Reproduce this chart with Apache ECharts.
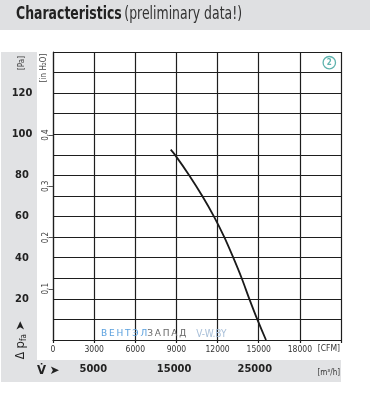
<!DOCTYPE html>
<html>
<head>
<meta charset="utf-8">
<script src="https://cdn.jsdelivr.net/npm/echarts@6/dist/echarts.min.js"></script>
<style>
html,body{margin:0;padding:0;background:#fff;}
#chart{width:370px;height:395px;}
</style>
</head>
<body>
<div id="chart"></div>
<script>
// Fan characteristic curve: volume flow [CFM] vs. static pressure [Pa]
const flowCFM = [8582, 8896, 9939, 10886, 11740, 12491, 13147, 13760, 14314, 14897, 15531];
const pressurePa = [92.5, 90, 80, 70, 60, 50, 40, 30, 20, 10, 0];

const cfmTicks = [0, 3000, 6000, 9000, 12000, 15000, 18000];
const paLabels = [20, 40, 60, 80, 100, 120];
const inH2OLabels = [0.1, 0.2, 0.3, 0.4];
const m3hLabels = [5000, 15000, 25000];

const CFM_MAX = 21000;
const PA_MAX = 140;
const PA_PER_INH2O = 249.089;
const M3H_PER_CFM = 1.69901;

const NARROW = "'Liberation Sans Narrow','Arial Narrow','DejaVu Sans Condensed',sans-serif";
const GRID_COLOR = '#1e1e1e';
const PANEL = '#e1e2e4';

const chart = echarts.init(document.getElementById('chart'), null, {renderer: 'canvas'});

const option = {
  backgroundColor: '#ffffff',
  animation: false,
  grid: {left: 53, top: 52, width: 288, height: 288, containLabel: false},
  graphic: [
    {type: 'rect', z: -10, shape: {x: 0, y: 0, width: 370, height: 30}, style: {fill: '#dfe0e2'}},
    {type: 'rect', z: -10, shape: {x: 1, y: 52, width: 36, height: 330}, style: {fill: PANEL}},
    {type: 'rect', z: -10, shape: {x: 1, y: 360, width: 340, height: 22}, style: {fill: PANEL}},
    {type: 'text', x: 16, y: 14, scaleX: 0.77, style: {
      text: '{b|Characteristics} {n|(preliminary data!)}', verticalAlign: 'middle',
      rich: {
        b: {fontFamily: NARROW, fontSize: 18, fontWeight: 'bold', fill: '#222'},
        n: {fontFamily: NARROW, fontSize: 18, fill: '#333'}
      }
    }},
    {type: 'text', x: 22, y: 63, rotation: Math.PI / 2, style: {
      text: '[Pa]', fontFamily: NARROW, fontSize: 8, fill: '#444', align: 'center', verticalAlign: 'middle'
    }},
    {type: 'text', x: 44, y: 68, rotation: Math.PI / 2, style: {
      text: '[in H₂O]', fontFamily: NARROW, fontSize: 8, fill: '#444', align: 'center', verticalAlign: 'middle'
    }},
    {type: 'text', x: 21, y: 340, rotation: Math.PI / 2, style: {
      text: '{d|Δ} {p|p}{s|fa} {a|➤}', align: 'center', verticalAlign: 'middle',
      rich: {
        d: {fontFamily: NARROW, fontSize: 12, fill: '#222'},
        p: {fontFamily: NARROW, fontSize: 13, fill: '#222'},
        s: {fontFamily: NARROW, fontSize: 8, fill: '#222', padding: [6, 0, 0, 0]},
        a: {fontFamily: 'DejaVu Sans', fontSize: 12, fill: '#222'}
      }
    }},
    {type: 'text', x: 37, y: 371, style: {
      text: '{v|V̇} {a|➤}', verticalAlign: 'middle',
      rich: {
        v: {fontFamily: NARROW, fontSize: 13, fontWeight: 'bold', fill: '#222'},
        a: {fontFamily: 'DejaVu Sans', fontSize: 12, fill: '#222'}
      }
    }},
    {type: 'text', x: 340, y: 373, style: {
      text: '[m³/h]', fontFamily: NARROW, fontSize: 8, fill: '#333', align: 'right', verticalAlign: 'middle'
    }},
    {type: 'text', x: 340, y: 349, style: {
      text: '[CFM]', fontFamily: NARROW, fontSize: 8.5, fill: '#333', align: 'right', verticalAlign: 'middle'
    }},
    {type: 'circle', shape: {cx: 329.3, cy: 62.7, r: 6.2}, style: {fill: 'none', stroke: '#5fb3ae', lineWidth: 1.3}},
    {type: 'text', x: 329.3, y: 63, style: {
      text: '2', fontFamily: NARROW, fontSize: 8, fontWeight: 'bold', fill: '#5fb3ae', align: 'center', verticalAlign: 'middle'
    }},
    {type: 'text', x: 101, y: 334, z: 5, style: {
      text: '{b|В\u2009Е\u2009Н\u2009Т\u2009Э\u2009Л}{g|З\u2009А\u2009П\u2009А\u2009Д}   {w|V-W.BY}', verticalAlign: 'middle',
      rich: {
        b: {fontFamily: "'DejaVu Sans',sans-serif", fontSize: 9, fill: '#5aa0de'},
        g: {fontFamily: "'DejaVu Sans',sans-serif", fontSize: 9, fill: '#666'},
        w: {fontFamily: NARROW, fontSize: 10, fill: '#a8bfd8'}
      }
    }}
  ],
  xAxis: [
    {
      type: 'value', position: 'bottom', min: 0, max: CFM_MAX, interval: 3000,
      axisLine: {show: true, onZero: false, lineStyle: {color: GRID_COLOR, width: 1.2}},
      axisTick: {show: true, length: 3, lineStyle: {color: GRID_COLOR, width: 1.2}},
      splitLine: {show: true, lineStyle: {color: GRID_COLOR, width: 1.2}},
      axisLabel: {
        customValues: cfmTicks, margin: 5,
        fontFamily: NARROW, fontSize: 8.5, color: '#333',
        formatter: v => String(v)
      }
    },
    {
      type: 'value', position: 'bottom', min: 0, max: CFM_MAX * M3H_PER_CFM,
      axisLine: {show: false}, axisTick: {show: false}, splitLine: {show: false},
      axisLabel: {
        customValues: m3hLabels, margin: 24,
        fontFamily: NARROW, fontSize: 11, fontWeight: 'bold', color: '#222',
        formatter: v => String(v)
      }
    }
  ],
  yAxis: [
    {
      type: 'value', position: 'left', min: 0, max: PA_MAX, interval: 10,
      axisLine: {show: true, onZero: false, lineStyle: {color: GRID_COLOR, width: 1.2}},
      axisTick: {show: false},
      splitLine: {show: true, lineStyle: {color: GRID_COLOR, width: 1.2}},
      axisLabel: {
        customValues: paLabels, margin: 31, align: 'center',
        fontFamily: NARROW, fontSize: 11, fontWeight: 'bold', color: '#222',
        formatter: v => String(v)
      }
    },
    {
      type: 'value', position: 'left', min: 0, max: PA_MAX / PA_PER_INH2O,
      axisLine: {show: false},
      axisTick: {show: true, customValues: inH2OLabels, length: 4, lineStyle: {color: '#555', width: 1}},
      splitLine: {show: false},
      axisLabel: {
        customValues: inH2OLabels, rotate: 90, margin: 3,
        fontFamily: NARROW, fontSize: 8, color: '#444',
        formatter: v => v.toFixed(1).replace('.', ',')
      }
    }
  ],
  series: [
    {
      type: 'line', xAxisIndex: 0, yAxisIndex: 0,
      data: flowCFM.map((x, i) => [x, pressurePa[i]]),
      smooth: 0.3, symbol: 'none',
      lineStyle: {color: '#1a1a1a', width: 1.8},
      z: 3
    }
  ]
};

chart.setOption(option);
</script>
</body>
</html>
